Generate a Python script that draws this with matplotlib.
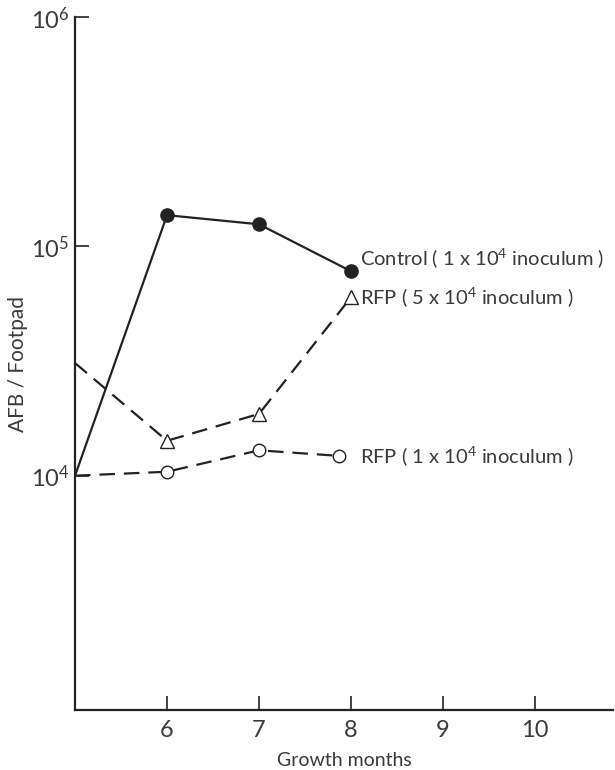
import matplotlib.pyplot as plt
import numpy as np

plt.rcParams['font.family'] = ['Lato', 'DejaVu Sans']
plt.rcParams['mathtext.fontset'] = 'custom'
plt.rcParams['mathtext.rm'] = 'Lato'
plt.rcParams['mathtext.it'] = 'Lato'

# growth months and AFB per footpad
control_x = [5, 6, 7, 8]
control_y = [1.0e4, 1.37e5, 1.25e5, 7.8e4]

rfp5_x = [5, 6, 7, 8]
rfp5_y = [3.1e4, 1.42e4, 1.86e4, 6.0e4]

rfp1_x = [5, 6, 7, 7.87]
rfp1_y = [1.0e4, 1.04e4, 1.29e4, 1.22e4]

xticks = [6, 7, 8, 9, 10]
yticks = [1e4, 1e5, 1e6]
ytick_labels = [r'$10^{4}$', r'$10^{5}$', r'$10^{6}$']

ink = '#222222'
txt = '#3a3a3a'

fig = plt.figure(figsize=(6.15, 7.7), dpi=100)
ax = fig.add_axes([0.122, 0.078, 0.875, 0.8995])

# solid control line, markers only at the measured months
ax.plot(control_x, control_y, color=ink, lw=1.6)
ax.plot(control_x[1:], control_y[1:], 'o', color=ink, ms=9.5)

ax.plot(rfp5_x, rfp5_y, color=ink, lw=1.6, dashes=(7, 4))
ax.plot(rfp5_x[1:], rfp5_y[1:], '^', mfc='white', mec=ink, mew=1.0, ms=10)

ax.plot(rfp1_x, rfp1_y, color=ink, lw=1.6, dashes=(7, 4))
ax.plot(rfp1_x[1:], rfp1_y[1:], 'o', mfc='white', mec=ink, mew=1.0, ms=9)

# series labels beside the last points
lab = dict(fontsize=14.5, color=txt, va='center', ha='left')
ax.text(8.1, 8.9e4, r'Control ( 1 x 10$^{4}$ inoculum )', **lab)
ax.text(8.1, 6.0e4, r'RFP ( 5 x 10$^{4}$ inoculum )', **lab)
ax.text(8.1, 1.22e4, r'RFP ( 1 x 10$^{4}$ inoculum )', **lab)

ax.set_yscale('log')
ax.set_xlim(5, 10.85)
ax.set_ylim(950, 1e6)
ax.set_xticks(xticks)
ax.set_xticklabels([str(t) for t in xticks])
ax.set_yticks(yticks)
ax.set_yticklabels(ytick_labels)
ax.yaxis.set_minor_locator(plt.NullLocator())

ax.tick_params(direction='in', length=10, width=1.2, colors=ink,
               labelsize=17, labelcolor=txt)
ax.tick_params(axis='x', pad=7)
ax.tick_params(axis='y', pad=4)

for s in ['top', 'right']:
    ax.spines[s].set_visible(False)
for s in ['left', 'bottom']:
    ax.spines[s].set_linewidth(1.6)
    ax.spines[s].set_color(ink)

ax.set_xlabel('Growth months', fontsize=14, color=txt, labelpad=8)
ax.set_ylabel('AFB / Footpad', fontsize=15, color=txt, labelpad=2)

fig.savefig('out.png', dpi=100)
